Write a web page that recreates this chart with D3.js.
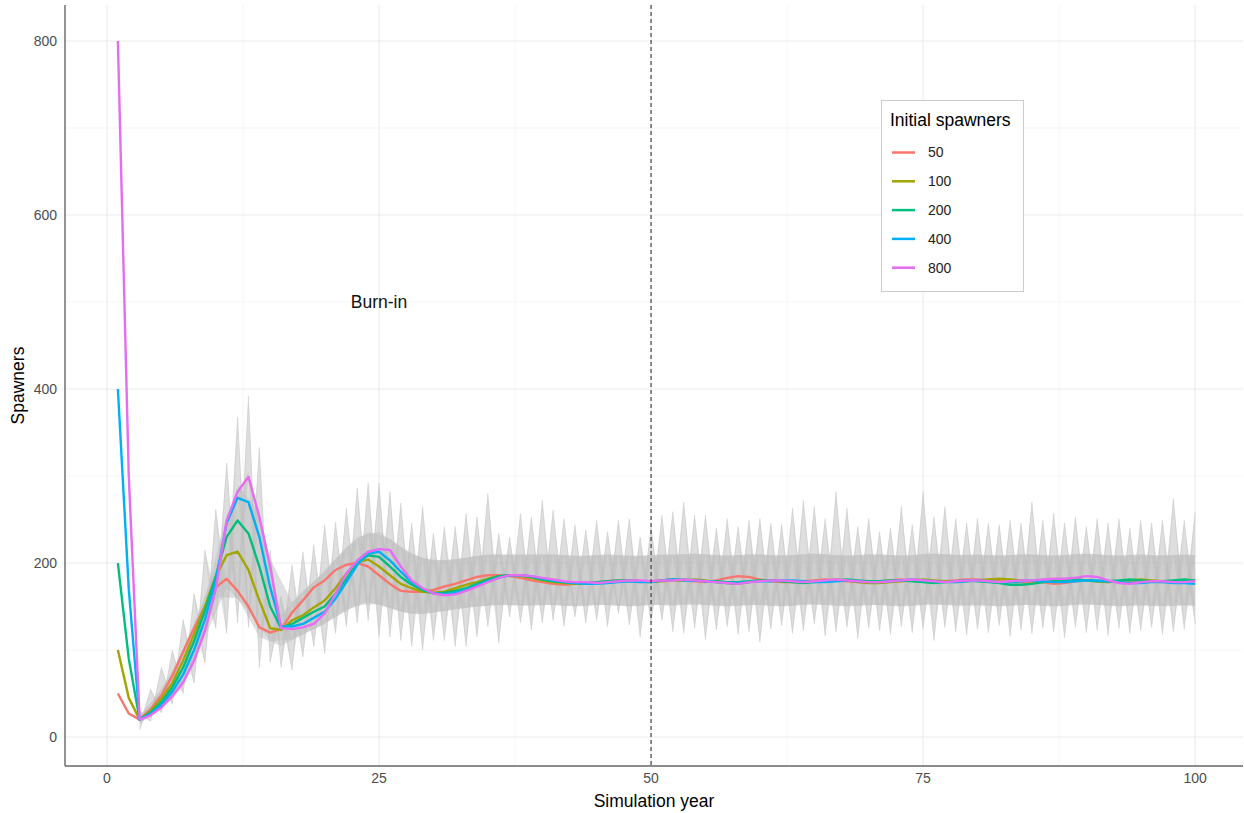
<!DOCTYPE html>
<html>
<head>
<meta charset="utf-8">
<script src="https://cdn.jsdelivr.net/npm/d3@7/dist/d3.min.js"></script>
<style>
  body { margin: 0; background: #fff; }
  text { font-family: "Liberation Sans", Arial, sans-serif; }
</style>
</head>
<body>
<div id="wrapper"></div>
<script>

// 1. Data

const years = d3.range(1, 101)
const initialSpawners = ["50", "100", "200", "400", "800"]
const seriesColors = ["#F8766D", "#A3A500", "#00BF7D", "#00B0F6", "#E76BF3"]

const spawners50 = [
  50, 27, 20, 32, 48, 70, 98, 125, 150, 172,
  182, 168, 150, 126, 120, 124, 143, 157, 172, 180,
  192, 198, 200, 196, 186, 176, 168, 167, 167, 169,
  173, 176, 180, 184, 186, 186, 185, 183, 180, 178,
  176, 175, 176, 177, 178, 179, 180, 179, 178, 179,
  180, 181, 180, 179, 178, 180, 183, 185, 184, 181,
  179, 178, 178, 179, 180, 181, 180, 179, 178, 178,
  179, 180, 181, 180, 179, 178, 179, 180, 181, 181,
  180, 179, 178, 178, 177, 178, 176, 177, 179, 180,
  179, 178, 179, 180, 180, 179, 178, 179, 180, 180
]
const spawners100 = [
  100, 45, 20, 30, 44, 62, 88, 118, 150, 185,
  209, 213, 192, 157, 125, 123, 134, 140, 149, 157,
  171, 188, 201, 204, 196, 186, 176, 171, 167, 166,
  167, 171, 175, 178, 182, 185, 186, 185, 183, 180,
  178, 177, 176, 176, 177, 178, 179, 180, 179, 178,
  179, 180, 180, 181, 180, 178, 177, 176, 178, 180,
  180, 179, 178, 178, 179, 180, 181, 180, 178, 177,
  177, 178, 179, 180, 181, 180, 179, 178, 179, 180,
  181, 182, 181, 180, 179, 178, 179, 180, 181, 180,
  179, 178, 179, 180, 181, 180, 179, 179, 180, 179
]
const spawners200 = [
  200, 90, 20, 28, 40, 57, 80, 110, 145, 185,
  230, 249, 234, 196, 150, 125, 130, 137, 144, 150,
  165, 182, 200, 209, 207, 196, 184, 175, 169, 165,
  166, 168, 171, 176, 181, 185, 186, 186, 184, 181,
  179, 178, 177, 177, 178, 179, 180, 180, 179, 178,
  180, 181, 181, 180, 179, 179, 178, 178, 179, 180,
  180, 179, 178, 177, 178, 179, 180, 181, 180, 179,
  179, 180, 180, 179, 178, 177, 178, 179, 180, 179,
  178, 177, 175, 175, 176, 178, 179, 180, 181, 180,
  179, 179, 180, 181, 180, 179, 179, 180, 181, 180
]
const spawners400 = [
  400, 170, 20, 27, 37, 52, 72, 100, 135, 180,
  246, 275, 270, 230, 172, 127, 127, 130, 137, 144,
  159, 178, 198, 211, 213, 203, 190, 178, 171, 165,
  164, 166, 169, 174, 179, 183, 186, 186, 185, 182,
  180, 178, 177, 176, 176, 177, 178, 179, 178, 178,
  180, 181, 180, 180, 179, 178, 177, 177, 178, 179,
  179, 180, 180, 179, 178, 178, 179, 180, 179, 178,
  178, 179, 180, 181, 180, 179, 178, 178, 179, 180,
  179, 178, 178, 179, 180, 179, 178, 178, 179, 180,
  180, 179, 178, 177, 177, 178, 178, 177, 177, 176
]
const spawners800 = [
  800, 300, 20, 25, 34, 47, 63, 88, 122, 170,
  249, 282, 299, 253, 196, 125, 124, 126, 130, 142,
  165, 188, 203, 213, 216, 215, 196, 180, 171, 165,
  163, 164, 168, 173, 178, 183, 186, 186, 185, 183,
  181, 179, 178, 178, 177, 178, 179, 180, 180, 179,
  180, 180, 181, 180, 179, 178, 177, 176, 178, 179,
  180, 180, 179, 178, 179, 180, 181, 180, 179, 178,
  178, 179, 180, 181, 180, 179, 178, 179, 180, 180,
  179, 178, 179, 180, 180, 181, 182, 182, 183, 185,
  184, 180, 177, 176, 178, 179, 179, 178, 178, 179
]
const meanSeries = [spawners50, spawners100, spawners200, spawners400, spawners800]

// grey simulation cloud, years 3..100: outer spikes and dense core
const cloudYears = d3.range(3, 101)
const cloudMax = [
  30, 55, 80, 100, 135, 165, 215, 262,
  315, 368, 392, 333, 215, 162, 198, 213, 221, 244,
  247, 263, 286, 292, 292, 282, 269, 246, 265, 234,
  242, 242, 257, 253, 280, 234, 230, 257, 253, 272,
  261, 251, 244, 238, 249, 236, 249, 251, 230, 242,
  255, 259, 270, 255, 255, 240, 251, 242, 249, 251,
  246, 244, 263, 272, 265, 251, 282, 263, 242, 251,
  236, 240, 265, 244, 282, 253, 265, 251, 246, 251,
  246, 244, 249, 246, 270, 249, 257, 246, 253, 242,
  251, 246, 251, 240, 249, 246, 249, 274, 249, 259
]
const cloudMin = [
  8, 18, 28, 38, 50, 62, 85, 125,
  119, 131, 126, 80, 86, 80, 77, 92, 104, 96,
  119, 127, 131, 134, 115, 115, 111, 104, 100, 111,
  111, 104, 104, 115, 127, 108, 138, 131, 123, 131,
  134, 127, 138, 131, 134, 127, 142, 129, 115, 131,
  134, 121, 119, 125, 112, 123, 127, 118, 121, 109,
  124, 128, 119, 122, 130, 116, 121, 126, 113, 125,
  122, 118, 127, 120, 124, 111, 126, 121, 117, 124,
  120, 128, 116, 123, 119, 125, 121, 114, 126, 120,
  123, 117, 125, 119, 122, 126, 118, 121, 124, 130
]
const cloudCoreHi = [
  24, 38, 54, 74, 100, 130, 160, 195,
  255, 290, 305, 258, 205, 140, 155, 168, 178, 190,
  205, 218, 230, 236, 236, 228, 218, 210, 205, 203,
  203, 204, 206, 208, 210, 210, 209, 210, 209, 210,
  210, 209, 208, 208, 209, 210, 209, 208, 208, 209,
  210, 209, 210, 211, 210, 209, 208, 209, 210, 210,
  209, 208, 209, 210, 211, 210, 209, 208, 209, 210,
  210, 209, 208, 209, 210, 211, 210, 209, 209, 210,
  209, 208, 209, 210, 210, 209, 208, 209, 210, 211,
  210, 209, 208, 209, 210, 209, 208, 209, 210, 209
]
const cloudCoreLo = [
  16, 24, 33, 44, 58, 82, 115, 160,
  172, 160, 145, 115, 110, 105, 112, 118, 124, 130,
  138, 146, 152, 155, 153, 148, 144, 141, 141, 143,
  145, 147, 149, 150, 151, 152, 152, 151, 151, 152,
  152, 151, 150, 151, 152, 152, 151, 150, 151, 152,
  152, 151, 152, 153, 152, 151, 150, 151, 152, 152,
  151, 150, 151, 152, 153, 152, 151, 150, 151, 152,
  152, 151, 150, 151, 152, 153, 152, 151, 151, 152,
  151, 150, 151, 152, 152, 151, 150, 151, 152, 153,
  152, 151, 150, 151, 152, 151, 150, 151, 152, 151
]

const xTicks = [0, 25, 50, 75, 100]
const xMinorTicks = [12.5, 37.5, 62.5, 87.5]
const yTicks = [0, 200, 400, 600, 800]
const yMinorTicks = [100, 300, 500, 700]
const burnInEnd = 50

// 2. Dimensions

let dimensions = {
  width: 1244,
  height: 813,
  margin: { top: 5, right: 1, bottom: 47, left: 65 },
}
dimensions.boundedWidth = dimensions.width - dimensions.margin.left - dimensions.margin.right
dimensions.boundedHeight = dimensions.height - dimensions.margin.top - dimensions.margin.bottom

// 3. Canvas

const wrapper = d3.select("#wrapper")
  .append("svg")
    .attr("width", dimensions.width)
    .attr("height", dimensions.height)

const bounds = wrapper.append("g")
    .attr("transform", `translate(${dimensions.margin.left}, ${dimensions.margin.top})`)

// 4. Scales

const xScale = d3.scaleLinear()
  .domain([-3.86, 104.4])
  .range([0, dimensions.boundedWidth])

const yScale = d3.scaleLinear()
  .domain([-33.3, 841.4])
  .range([dimensions.boundedHeight, 0])

// 5. Grid

const grid = bounds.append("g")
grid.selectAll(".x-minor").data(xMinorTicks).join("line")
    .attr("x1", d => xScale(d)).attr("x2", d => xScale(d))
    .attr("y1", 0).attr("y2", dimensions.boundedHeight)
    .attr("stroke", "#f2f2f2").attr("stroke-width", 0.8)
grid.selectAll(".y-minor").data(yMinorTicks).join("line")
    .attr("y1", d => yScale(d)).attr("y2", d => yScale(d))
    .attr("x1", 0).attr("x2", dimensions.boundedWidth)
    .attr("stroke", "#f2f2f2").attr("stroke-width", 0.8)
grid.selectAll(".x-major").data(xTicks).join("line")
    .attr("x1", d => xScale(d)).attr("x2", d => xScale(d))
    .attr("y1", 0).attr("y2", dimensions.boundedHeight)
    .attr("stroke", "#ebebeb").attr("stroke-width", 1.1)
grid.selectAll(".y-major").data(yTicks).join("line")
    .attr("y1", d => yScale(d)).attr("y2", d => yScale(d))
    .attr("x1", 0).attr("x2", dimensions.boundedWidth)
    .attr("stroke", "#ebebeb").attr("stroke-width", 1.1)

// 6. Simulation cloud

const cloud = bounds.append("g")
const n = cloudYears.length
const pt = (i, v) => [xScale(cloudYears[i]), yScale(v)]

// long crossing traces between the extremes
const zigA = cloudYears.map((yr, i) => i % 2 ? cloudMin[i] : cloudMax[i])
const zigB = cloudYears.map((yr, i) => i % 2 ? cloudMax[i] : cloudMin[i])
const zigLine = d3.line()
  .x((d, i) => xScale(cloudYears[i]))
  .y(d => yScale(d))

cloud.selectAll(".zig")
  .data([zigA, zigB])
  .join("path")
    .attr("class", "zig")
    .attr("d", zigLine)
    .attr("fill", "none")
    .attr("stroke", "#d4d4d4")
    .attr("stroke-width", 0.6)

const spikes = []
d3.range(n).forEach(i => {
  const l = Math.max(i - 1, 0)
  const r = Math.min(i + 1, n - 1)
  spikes.push([pt(l, cloudCoreLo[l]), pt(i, cloudMax[i]), pt(r, cloudCoreLo[r])])
  spikes.push([pt(l, cloudCoreHi[l]), pt(i, cloudMin[i]), pt(r, cloudCoreHi[r])])
})

cloud.selectAll(".spike")
  .data(spikes)
  .join("polygon")
    .attr("class", "spike")
    .attr("points", d => d.map(p => p.join(",")).join(" "))
    .attr("fill", "#bdbdbd")
    .attr("fill-opacity", 0.5)

// 7. Mean lines

const lineGenerator = d3.line()
  .x((d, i) => xScale(years[i]))
  .y(d => yScale(d))

bounds.append("g")
  .selectAll(".mean-line")
  .data(meanSeries)
  .join("path")
    .attr("class", "mean-line")
    .attr("d", lineGenerator)
    .attr("fill", "none")
    .attr("stroke", (d, i) => seriesColors[i])
    .attr("stroke-width", 2.4)
    .attr("stroke-linejoin", "round")

// burn-in marker
bounds.append("line")
    .attr("x1", xScale(burnInEnd)).attr("x2", xScale(burnInEnd))
    .attr("y1", 0).attr("y2", dimensions.boundedHeight)
    .attr("stroke", "#333")
    .attr("stroke-width", 1.1)
    .attr("stroke-dasharray", "4,3")

bounds.append("text")
    .attr("x", xScale(25))
    .attr("y", yScale(500))
    .attr("dy", "0.35em")
    .attr("text-anchor", "middle")
    .style("font-size", "17.5px")
    .attr("fill", "#111")
    .text("Burn-in")

// 8. Axes

bounds.append("line")
    .attr("x1", 0).attr("x2", 0)
    .attr("y1", 0).attr("y2", dimensions.boundedHeight)
    .attr("stroke", "#666").attr("stroke-width", 1.4)
bounds.append("line")
    .attr("x1", 0).attr("x2", dimensions.boundedWidth)
    .attr("y1", dimensions.boundedHeight).attr("y2", dimensions.boundedHeight)
    .attr("stroke", "#666").attr("stroke-width", 1.4)

bounds.selectAll(".y-label").data(yTicks).join("text")
    .attr("x", -8)
    .attr("y", d => yScale(d))
    .attr("dy", "0.35em")
    .attr("text-anchor", "end")
    .style("font-size", "14px")
    .attr("fill", "#4d4d4d")
    .text(d => d)

bounds.selectAll(".x-label").data(xTicks).join("text")
    .attr("x", d => xScale(d))
    .attr("y", dimensions.boundedHeight + 17)
    .attr("text-anchor", "middle")
    .style("font-size", "14px")
    .attr("fill", "#4d4d4d")
    .text(d => d)

wrapper.append("text")
    .attr("x", dimensions.margin.left + dimensions.boundedWidth / 2)
    .attr("y", 807)
    .attr("text-anchor", "middle")
    .style("font-size", "17.5px")
    .text("Simulation year")

wrapper.append("text")
    .attr("transform", `translate(24, ${dimensions.margin.top + dimensions.boundedHeight / 2}) rotate(-90)`)
    .attr("text-anchor", "middle")
    .style("font-size", "17.5px")
    .text("Spawners")

// 9. Legend

const legend = wrapper.append("g")
    .attr("transform", "translate(881, 100)")

legend.append("rect")
    .attr("x", 0.5).attr("y", 0.5)
    .attr("width", 142).attr("height", 191)
    .attr("fill", "#fff")
    .attr("stroke", "#cccccc")

legend.append("text")
    .attr("x", 9)
    .attr("y", 26)
    .style("font-size", "17.5px")
    .text("Initial spawners")

const legendItems = legend.selectAll(".legend-item")
  .data(initialSpawners)
  .join("g")
    .attr("class", "legend-item")
    .attr("transform", (d, i) => `translate(0, ${52.5 + i * 28.8})`)

legendItems.append("line")
    .attr("x1", 11).attr("x2", 34)
    .attr("stroke", (d, i) => seriesColors[i])
    .attr("stroke-width", 2.5)

legendItems.append("text")
    .attr("x", 47)
    .attr("dy", "0.35em")
    .style("font-size", "14px")
    .attr("fill", "#222")
    .text(d => d)

</script>
</body>
</html>
